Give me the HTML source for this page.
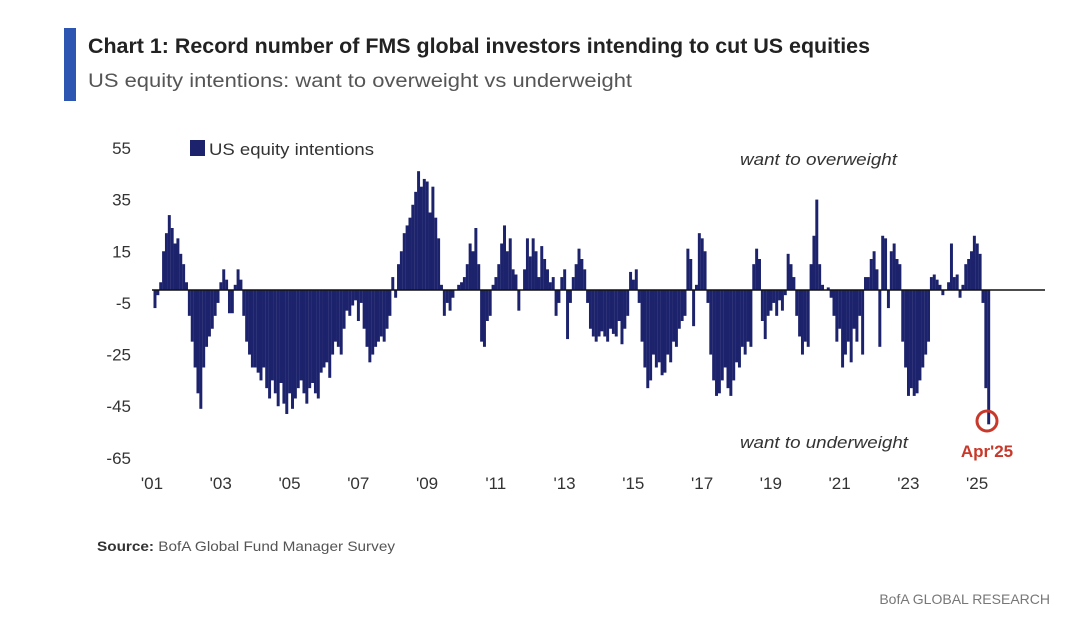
<!DOCTYPE html>
<html><head><meta charset="utf-8"><style>
body{margin:0;background:#fff;width:1070px;height:631px;overflow:hidden;font-family:"Liberation Sans",sans-serif}
svg{position:absolute;left:0;top:0}
</style></head><body>
<svg width="1070" height="631">
<rect x="64" y="28" width="12" height="73" fill="#2d56b3"/>
<text x="88" y="53" font-size="21" font-weight="bold" fill="#222" textLength="782" lengthAdjust="spacingAndGlyphs">Chart 1: Record number of FMS global investors intending to cut US equities</text>
<text x="88" y="87" font-size="19" fill="#555" textLength="544" lengthAdjust="spacingAndGlyphs">US equity intentions: want to overweight vs underweight</text>
<g id="yaxis"></g>
<g id="xaxis"></g>
<g id="bars"></g>
<rect x="190" y="140" width="15" height="16" fill="#1c226b"/>
<text x="209" y="155" font-size="17" fill="#333" textLength="165" lengthAdjust="spacingAndGlyphs">US equity intentions</text>
<text x="740" y="165" font-size="17" font-style="italic" fill="#333" textLength="157" lengthAdjust="spacingAndGlyphs">want to overweight</text>
<text x="740" y="448" font-size="17" font-style="italic" fill="#333" textLength="168" lengthAdjust="spacingAndGlyphs">want to underweight</text>
<circle cx="987" cy="421" r="10" fill="none" stroke="#c8392b" stroke-width="3"/>
<text x="987" y="457" font-size="17" font-weight="bold" fill="#c8392b" text-anchor="middle">Apr'25</text>
<text x="97" y="551" font-size="14" fill="#555" textLength="298" lengthAdjust="spacingAndGlyphs"><tspan font-weight="bold" fill="#333">Source:</tspan> BofA Global Fund Manager Survey</text>
<text x="1050" y="604" font-size="14" fill="#777" text-anchor="end">BofA GLOBAL RESEARCH</text>
</svg>
<script>
const startYear = 2001;
const values = [
-7,-2,3,15,22,29,24,18,20,14,10,3,
-10,-20,-30,-40,-46,-30,-22,-18,-15,-10,-5,3,
8,4,-9,-9,2,8,4,-10,-20,-25,-30,-30,
-32,-35,-30,-38,-42,-35,-40,-45,-36,-44,-48,-40,
-46,-42,-38,-35,-40,-44,-38,-36,-40,-42,-32,-30,
-28,-34,-25,-20,-22,-25,-15,-8,-10,-6,-4,-12,
-5,-15,-22,-28,-25,-22,-20,-18,-20,-15,-10,5,
-3,10,15,22,25,28,33,38,46,40,43,42,
30,40,28,20,2,-10,-5,-8,-3,0,2,3,
5,10,18,15,24,10,-20,-22,-12,-10,2,5,
10,18,25,15,20,8,6,-8,0,8,20,13,
20,15,5,17,12,8,3,5,-10,-5,5,8,
-19,-5,5,10,16,12,8,-5,-15,-18,-20,-18,
-16,-18,-20,-15,-17,-18,-12,-21,-15,-10,7,4,
8,-5,-20,-30,-38,-35,-25,-30,-28,-33,-32,-25,
-28,-20,-22,-15,-12,-10,16,12,-14,2,22,20,
15,-5,-25,-35,-41,-40,-35,-30,-38,-41,-35,-28,
-30,-22,-25,-20,-22,10,16,12,-12,-19,-10,-8,
-5,-10,-4,-8,-2,14,10,5,-10,-18,-25,-20,
-22,10,21,35,10,2,0,1,-3,-10,-20,-15,
-30,-25,-20,-28,-15,-20,-10,-25,5,5,12,15,
8,-22,21,20,-7,15,18,12,10,-20,-30,-41,
-38,-41,-40,-35,-30,-25,-20,5,6,4,2,-2,
0,3,18,5,6,-3,2,10,12,15,21,18,
14,-5,-38,-52
];
const yTicks = [55,35,15,-5,-25,-45,-65];
const xTickLabels = ["'01","'03","'05","'07","'09","'11","'13","'15","'17","'19","'21","'23","'25"];
const xTickYears = [2001,2003,2005,2007,2009,2011,2013,2015,2017,2019,2021,2023,2025];

const NS="http://www.w3.org/2000/svg";
const x0=152, pxMonth=2.865;
function xScale(monthIndex){return x0+monthIndex*pxMonth;}
function yScale(v){return 290-v*2.583;}

const ya=document.getElementById('yaxis');
yTicks.forEach(t=>{
  const tx=document.createElementNS(NS,'text');
  tx.setAttribute('x',131);tx.setAttribute('y',yScale(t)+6);
  tx.setAttribute('font-size','17');tx.setAttribute('fill','#333');tx.setAttribute('text-anchor','end');
  tx.textContent=t;
  
  
  ya.appendChild(tx);
});
const xa=document.getElementById('xaxis');
xTickYears.forEach((yr,i)=>{
  const tx=document.createElementNS(NS,'text');
  tx.setAttribute('x',xScale((yr-startYear)*12));tx.setAttribute('y',489);
  tx.setAttribute('font-size','17');tx.setAttribute('fill','#333');tx.setAttribute('text-anchor','middle');
  tx.textContent=xTickLabels[i];
  
  
  xa.appendChild(tx);
});
const bg=document.getElementById('bars');
values.forEach((v,i)=>{
  const r=document.createElementNS(NS,'rect');
  const y0=yScale(0), y1=yScale(v);
  r.setAttribute('x',xScale(i)+1.5);r.setAttribute('width',pxMonth+0.1);
  r.setAttribute('y',Math.min(y0,y1));r.setAttribute('height',Math.abs(y1-y0));
  r.setAttribute('fill','#1c226b');
  
  
  bg.appendChild(r);
});
const zl=document.createElementNS(NS,'line');
zl.setAttribute('x1',152);zl.setAttribute('x2',1045);zl.setAttribute('y1',yScale(0));zl.setAttribute('y2',yScale(0));
zl.setAttribute('stroke','#111');zl.setAttribute('stroke-width','1.6');


bg.appendChild(zl);
</script>
</body></html>
